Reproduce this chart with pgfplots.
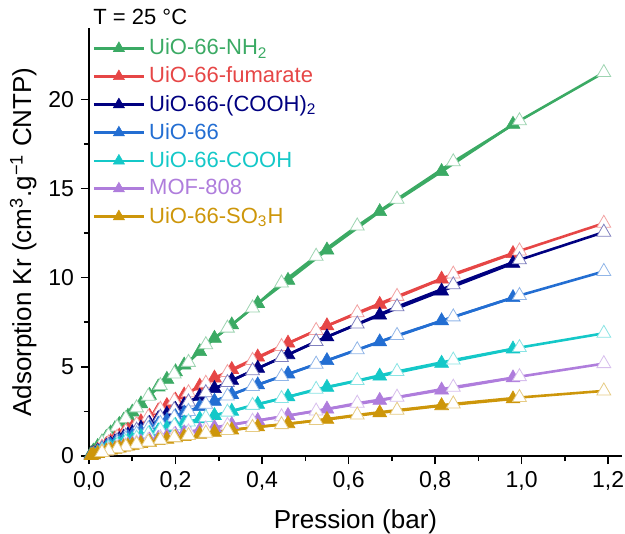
\documentclass[border=0pt]{standalone}
\usepackage{fontspec}
\setmainfont{Liberation Sans}
\usepackage{pgfplots}
\usepackage{pgfplotstable}
\pgfplotsset{compat=1.18}
\definecolor{cNH}{RGB}{59,170,100}
\definecolor{cFum}{RGB}{230,70,70}
\definecolor{cCOOHb}{RGB}{0,0,128}
\definecolor{cUiO}{RGB}{35,110,210}
\definecolor{cCOOH}{RGB}{20,200,200}
\definecolor{cMOF}{RGB}{175,125,220}
\definecolor{cSO}{RGB}{205,150,10}
\pgfplotstableread{
p nh2 fum cooh2 uio cooh mof so3h
0.005 0.14 0.08 0.07 0.06 0.05 0.03 0.03
0.01 0.27 0.16 0.14 0.12 0.10 0.07 0.07
0.02 0.53 0.32 0.27 0.24 0.20 0.14 0.14
0.03 0.79 0.48 0.40 0.36 0.29 0.21 0.20
0.04 1.04 0.64 0.53 0.48 0.39 0.28 0.27
0.05 1.29 0.80 0.66 0.59 0.48 0.36 0.33
0.06 1.53 0.96 0.79 0.70 0.57 0.42 0.38
0.07 1.77 1.12 0.92 0.81 0.66 0.48 0.44
0.08 2.00 1.28 1.05 0.92 0.75 0.55 0.50
0.09 2.23 1.44 1.18 1.03 0.84 0.61 0.55
0.10 2.46 1.60 1.31 1.14 0.92 0.68 0.60
0.12 2.92 1.92 1.57 1.36 1.09 0.79 0.69
0.14 3.40 2.23 1.83 1.57 1.25 0.89 0.77
0.16 3.87 2.53 2.09 1.78 1.41 0.99 0.86
0.18 4.30 2.83 2.35 1.99 1.56 1.10 0.94
0.20 4.72 3.13 2.61 2.20 1.71 1.20 1.02
0.22 5.10 3.42 2.87 2.41 1.85 1.30 1.09
0.256 5.85 3.92 3.35 2.77 2.08 1.46 1.22
0.29 6.60 4.37 3.78 3.07 2.27 1.60 1.33
0.33 7.35 4.85 4.24 3.45 2.51 1.76 1.46
0.39 8.55 5.55 4.92 3.99 2.90 1.99 1.63
0.46 9.85 6.33 5.68 4.60 3.32 2.27 1.81
0.55 11.55 7.30 6.68 5.35 3.85 2.63 2.05
0.672 13.70 8.50 7.90 6.40 4.48 3.12 2.42
0.815 15.95 9.92 9.25 7.58 5.20 3.70 2.82
0.98 18.60 11.35 10.80 8.88 6.00 4.38 3.20
}\adsdata
\pgfplotstableread{
p nh2 fum cooh2 uio cooh mof so3h
1.19 21.50 13.05 12.55 10.35 6.88 5.18 3.65
0.995 18.80 11.50 11.00 9.00 6.08 4.45 3.28
0.842 16.50 10.20 9.60 7.80 5.38 3.86 2.92
0.712 14.40 8.95 8.37 6.76 4.74 3.30 2.57
0.62 12.90 8.03 7.40 5.96 4.23 2.96 2.30
0.525 11.20 7.04 6.42 5.15 3.74 2.52 1.99
0.445 9.70 6.14 5.52 4.46 3.22 2.20 1.76
0.378 8.30 5.36 4.78 3.90 2.84 1.95 1.60
0.32 7.17 4.68 4.12 3.36 2.46 1.72 1.43
0.27 6.24 4.08 3.55 2.90 2.16 1.52 1.28
0.23 5.25 3.55 3.03 2.50 1.91 1.35 1.15
0.197 4.60 3.10 2.60 2.17 1.69 1.19 1.03
0.165 3.95 2.62 2.18 1.83 1.46 1.03 0.90
0.137 3.35 2.18 1.80 1.53 1.24 0.88 0.78
0.11 2.70 1.77 1.45 1.24 1.01 0.73 0.66
0.085 2.10 1.37 1.12 0.96 0.79 0.58 0.52
0.065 1.62 1.05 0.85 0.74 0.61 0.45 0.41
0.045 1.15 0.73 0.59 0.51 0.43 0.32 0.29
0.03 0.75 0.49 0.39 0.34 0.29 0.21 0.20
}\desdata
\pgfplotsset{
  ads/.style={color=#1, line width=1.3pt, mark=triangle*, mark size=4pt, mark options={solid, fill=#1, draw=#1, line width=0.3pt}},
  des/.style={color=#1, line width=1.3pt, mark=triangle*, mark size=4pt, mark options={solid, fill=white, draw=#1!50, line width=0.4pt}, forget plot},
}
\begin{document}
\begin{tikzpicture}
\useasboundingbox (-44.5pt,-39pt) rectangle (268pt,228pt);
\begin{axis}[
  scale only axis,
  width=266.5pt, height=214pt,
  xmin=0, xmax=1.232, ymin=0, ymax=24,
  axis x line*=bottom, axis y line*=left,
  axis line style={line width=0.8pt, -},
  xtick={0,0.2,0.4,0.6,0.8,1.0,1.2},
  xticklabels={{0,0},{0,2},{0,4},{0,6},{0,8},{1,0},{1,2}},
  ytick={0,5,10,15,20},
  yticklabels={0,5,10,15,20},
  minor x tick num=1, minor y tick num=1,
  tick align=outside,
  major tick length=4pt, minor tick length=2.5pt,
  tick style={line width=0.8pt, black},
  ticklabel style={font=\fontsize{11.5}{13}\selectfont},
  xlabel={Pression (bar)},
  ylabel={Adsorption Kr (cm\textsuperscript{3}.g\textsuperscript{−1} CNTP)},
  label style={font=\fontsize{13}{15}\selectfont},
  xlabel style={yshift=-3pt},
  ylabel style={yshift=-1pt},
  clip=false,
  legend style={at={(0.006,0.985)}, anchor=north west, draw=none, fill=none,
    font=\fontsize{11}{13}\selectfont, row sep=0.6pt, inner sep=0pt},
  legend cell align=left,
  legend image code/.code={\draw[mark repeat=2, mark phase=2, mark size=3.2pt] plot coordinates {(0pt,0pt) (12.5pt,0pt) (25pt,0pt)};},
]
\addplot[ads=cNH] table[x=p,y=nh2] {\adsdata};
\addlegendentry{\textcolor{cNH}{UiO-66-NH\textsubscript{2}}}
\addplot[des=cNH] table[x=p,y=nh2] {\desdata};
\addplot[ads=cFum] table[x=p,y=fum] {\adsdata};
\addlegendentry{\textcolor{cFum}{UiO-66-fumarate}}
\addplot[des=cFum] table[x=p,y=fum] {\desdata};
\addplot[ads=cCOOHb] table[x=p,y=cooh2] {\adsdata};
\addlegendentry{\textcolor{cCOOHb}{UiO-66-(COOH)\textsubscript{2}}}
\addplot[des=cCOOHb] table[x=p,y=cooh2] {\desdata};
\addplot[ads=cUiO] table[x=p,y=uio] {\adsdata};
\addlegendentry{\textcolor{cUiO}{UiO-66}}
\addplot[des=cUiO] table[x=p,y=uio] {\desdata};
\addplot[ads=cCOOH] table[x=p,y=cooh] {\adsdata};
\addlegendentry{\textcolor{cCOOH}{UiO-66-COOH}}
\addplot[des=cCOOH] table[x=p,y=cooh] {\desdata};
\addplot[ads=cMOF] table[x=p,y=mof] {\adsdata};
\addlegendentry{\textcolor{cMOF}{MOF-808}}
\addplot[des=cMOF] table[x=p,y=mof] {\desdata};
\addplot[ads=cSO] table[x=p,y=so3h] {\adsdata};
\addlegendentry{\textcolor{cSO}{UiO-66-SO\textsubscript{3}H}}
\addplot[des=cSO] table[x=p,y=so3h] {\desdata};
\node[anchor=base west, font=\fontsize{11}{13}\selectfont, inner sep=0pt] at ([xshift=2pt,yshift=1.5pt]rel axis cs:0,1) {T = 25 °C};
\end{axis}
\end{tikzpicture}
\end{document}
